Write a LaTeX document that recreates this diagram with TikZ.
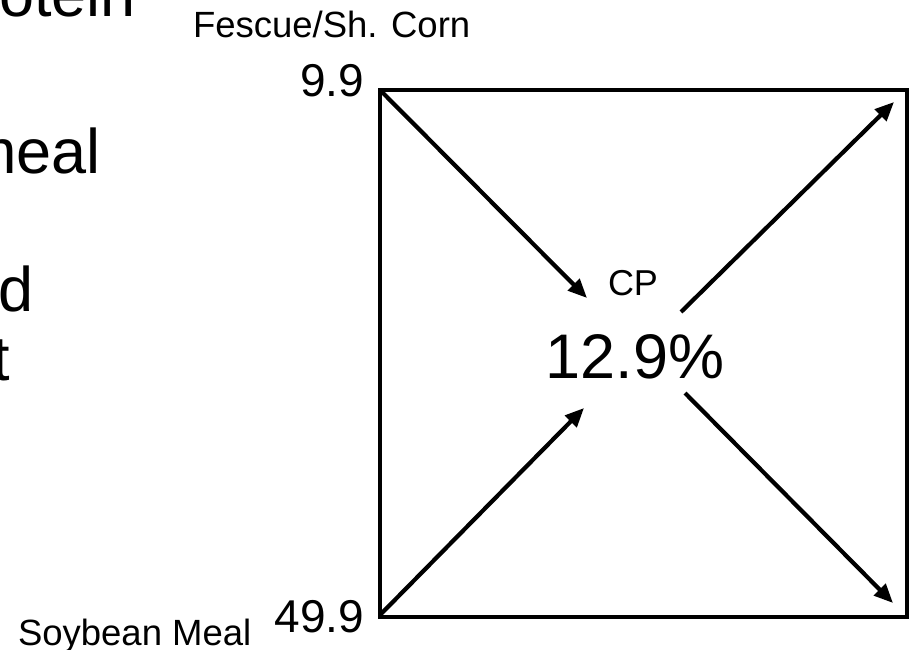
\documentclass[tikz,border=0pt]{standalone}
\usepackage{fontspec}
\setmainfont{Liberation Sans}
\usetikzlibrary{arrows.meta}
\tikzset{
  lbl/.style={inner sep=0pt, outer sep=0pt, text=black},
  frame/.style={draw=black, line width=4.5pt},
  flow/.style={draw=black, line width=4.2pt, -{Triangle[length=19pt,width=16pt]}},
}
\begin{document}
\begin{tikzpicture}[x=1pt,y=-1pt]
\useasboundingbox (0,0) rectangle (913,650);
\clip (0,0) rectangle (913,650);
% slide text on the left, cut by the picture's edge as in the reference
\node[lbl, anchor=base east, font=\fontsize{63}{70}\selectfont] (w1) at (136,17) {Protein};
\node[lbl, anchor=base east, font=\fontsize{63}{70}\selectfont] (w2) at (101,173) {meal};
\node[lbl, anchor=base east, font=\fontsize{63}{70}\selectfont] (w3) at (34,311) {d};
\node[lbl, anchor=base east, font=\fontsize{63}{70}\selectfont] (w4) at (10,380) {t};
% labels
\node[lbl, anchor=base west, font=\fontsize{36.5}{40}\selectfont] (fes) at (193,38) {Fescue/Sh. Corn};
\node[lbl, anchor=base east, font=\fontsize{46}{50}\selectfont] (v1) at (364,97) {9.9};
\node[lbl, anchor=base east, font=\fontsize{46}{50}\selectfont] (v2) at (364,632) {49.9};
\node[lbl, anchor=base west, font=\fontsize{36.5}{40}\selectfont] (soy) at (18,645) {Soybean Meal};
\node[lbl, anchor=base, font=\fontsize{36}{40}\selectfont] (cp) at (633,295) {CP};
\node[lbl, anchor=base, font=\fontsize{63}{70}\selectfont] (pct) at (635,378) {12.9\%};
% box corners and arrow ends
\coordinate (tl) at (380,90);
\coordinate (br) at (907,617);
\coordinate (bl) at (380,615);
\coordinate (e1) at (587,298);
\coordinate (s2) at (681,312);
\coordinate (e2) at (894,102);
\coordinate (e3) at (584,408);
\coordinate (s4) at (685,393);
\coordinate (e4) at (893,603);
\draw[frame] (tl) rectangle (br);
\draw[flow] (tl) -- (e1);
\draw[flow] (s2) -- (e2);
\draw[flow] (bl) -- (e3);
\draw[flow] (s4) -- (e4);
\end{tikzpicture}
\end{document}
